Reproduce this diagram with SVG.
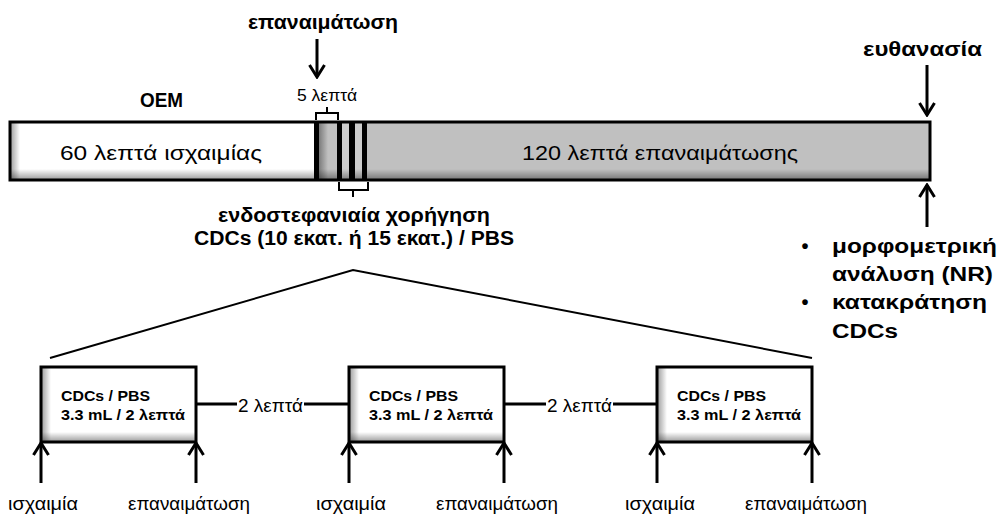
<svg xmlns="http://www.w3.org/2000/svg" width="999" height="517" viewBox="0 0 999 517">
<style>
.t{font-family:"Liberation Sans",Arial,sans-serif;fill:#000}
.b{font-weight:bold}
.ln{stroke:#000;fill:none;stroke-width:3}
.thin{stroke:#000;fill:none;stroke-width:2}
.arr{stroke:#000;fill:none;stroke-width:3;marker-end:url(#ah)}
.box{fill:#fff}
.edge{fill:none;stroke:#000;stroke-width:3}
</style>
<defs>
<marker id="ah" viewBox="0 0 16 18" refX="14" refY="9" markerWidth="16" markerHeight="18" orient="auto" markerUnits="userSpaceOnUse">
<path d="M2,1.5 L14,9 L2,16.5" fill="none" stroke="#000" stroke-width="3"/>
</marker>
<linearGradient id="shL" x1="0" y1="0" x2="1" y2="0">
<stop offset="0" stop-color="#000" stop-opacity="0.4"/>
<stop offset="1" stop-color="#000" stop-opacity="0"/>
</linearGradient>
<linearGradient id="shB" x1="0" y1="0" x2="0" y2="1">
<stop offset="0" stop-color="#000" stop-opacity="0"/>
<stop offset="1" stop-color="#000" stop-opacity="0.4"/>
</linearGradient>
</defs>

<g id="timeline">
<rect x="10" y="122" width="306" height="58" fill="#fff"/>
<rect x="316" y="122" width="614" height="58" fill="#c0c0c0"/>
<rect x="342" y="122" width="20" height="58" fill="#cdcdcd"/>
<rect x="10" y="122" width="10" height="58" fill="url(#shL)"/>
<rect x="318" y="122" width="10" height="58" fill="url(#shL)"/>
<rect x="10" y="169" width="920" height="11" fill="url(#shB)"/>
<rect x="314" y="122" width="5" height="58" fill="#000"/>
<rect x="337" y="122" width="5" height="58" fill="#000"/>
<rect x="349" y="122" width="6" height="58" fill="#000"/>
<rect x="362" y="122" width="5" height="58" fill="#000"/>
<rect x="10" y="122" width="920" height="58" class="edge"/>
<text class="t" x="60" y="160" font-size="21" textLength="202" lengthAdjust="spacingAndGlyphs">60 λεπτά ισχαιμίας</text>
<text class="t" x="522" y="160" font-size="21" textLength="276" lengthAdjust="spacingAndGlyphs">120 λεπτά επαναιμάτωσης</text>
</g>

<g id="label-oem"><text class="t b" x="140" y="107" font-size="20" textLength="43" lengthAdjust="spacingAndGlyphs">ΟΕΜ</text></g>
<g id="label-reperfusion"><text class="t b" x="248" y="29" font-size="20" textLength="150" lengthAdjust="spacingAndGlyphs">επαναιμάτωση</text></g>
<g id="label-5min"><text class="t" x="297" y="101" font-size="16" textLength="60" lengthAdjust="spacingAndGlyphs">5 λεπτά</text></g>
<g id="label-euthanasia"><text class="t b" x="863" y="56" font-size="20" textLength="119" lengthAdjust="spacingAndGlyphs">ευθανασία</text></g>
<g id="label-admin">
<text class="t b" x="218" y="222" font-size="20" textLength="272" lengthAdjust="spacingAndGlyphs">ενδοστεφανιαία χορήγηση</text>
<text class="t b" x="194" y="245" font-size="20" textLength="320" lengthAdjust="spacingAndGlyphs">CDCs (10 εκατ. ή 15 εκατ.) / PBS</text>
</g>
<g id="label-analysis">
<text class="t b" x="805" y="253" font-size="20" text-anchor="middle">•</text>
<text class="t b" x="832" y="253" font-size="20" textLength="165" lengthAdjust="spacingAndGlyphs">μορφομετρική</text>
<text class="t b" x="832" y="281" font-size="20" textLength="161" lengthAdjust="spacingAndGlyphs">ανάλυση (NR)</text>
<text class="t b" x="805" y="309" font-size="20" text-anchor="middle">•</text>
<text class="t b" x="832" y="309" font-size="20" textLength="155" lengthAdjust="spacingAndGlyphs">κατακράτηση</text>
<text class="t b" x="832" y="338" font-size="20" textLength="66" lengthAdjust="spacingAndGlyphs">CDCs</text>
</g>

<g id="box1">
<rect class="box" x="41" y="367" width="155" height="75"/>
<rect x="41" y="367" width="10" height="75" fill="url(#shL)"/>
<rect x="41" y="432" width="155" height="10" fill="url(#shB)"/>
<rect class="edge" x="41" y="367" width="155" height="75"/>
<text class="t b" x="61" y="401" font-size="15.5" textLength="89" lengthAdjust="spacingAndGlyphs">CDCs / PBS</text>
<text class="t b" x="61" y="420" font-size="15.5" textLength="124" lengthAdjust="spacingAndGlyphs">3.3 mL / 2 λεπτά</text>
</g>
<g id="box2">
<rect class="box" x="349" y="367" width="155" height="75"/>
<rect x="349" y="367" width="10" height="75" fill="url(#shL)"/>
<rect x="349" y="432" width="155" height="10" fill="url(#shB)"/>
<rect class="edge" x="349" y="367" width="155" height="75"/>
<text class="t b" x="369" y="401" font-size="15.5" textLength="89" lengthAdjust="spacingAndGlyphs">CDCs / PBS</text>
<text class="t b" x="369" y="420" font-size="15.5" textLength="124" lengthAdjust="spacingAndGlyphs">3.3 mL / 2 λεπτά</text>
</g>
<g id="box3">
<rect class="box" x="657" y="367" width="155" height="75"/>
<rect x="657" y="367" width="10" height="75" fill="url(#shL)"/>
<rect x="657" y="432" width="155" height="10" fill="url(#shB)"/>
<rect class="edge" x="657" y="367" width="155" height="75"/>
<text class="t b" x="677" y="401" font-size="15.5" textLength="89" lengthAdjust="spacingAndGlyphs">CDCs / PBS</text>
<text class="t b" x="677" y="420" font-size="15.5" textLength="124" lengthAdjust="spacingAndGlyphs">3.3 mL / 2 λεπτά</text>
</g>

<g id="bottom-labels">
<text class="t" x="8" y="510" font-size="19" textLength="70" lengthAdjust="spacingAndGlyphs">ισχαιμία</text>
<text class="t" x="128" y="510" font-size="19" textLength="122" lengthAdjust="spacingAndGlyphs">επαναιμάτωση</text>
<text class="t" x="316" y="510" font-size="19" textLength="70" lengthAdjust="spacingAndGlyphs">ισχαιμία</text>
<text class="t" x="436" y="510" font-size="19" textLength="122" lengthAdjust="spacingAndGlyphs">επαναιμάτωση</text>
<text class="t" x="625" y="510" font-size="19" textLength="70" lengthAdjust="spacingAndGlyphs">ισχαιμία</text>
<text class="t" x="745" y="510" font-size="19" textLength="122" lengthAdjust="spacingAndGlyphs">επαναιμάτωση</text>
</g>

<g id="connectors">
<path class="arr" d="M317,39 V77"/>
<path class="arr" d="M927,65 V115"/>
<path class="arr" d="M927,227 V185"/>
<path class="thin" d="M316,120 V113 H338 V120 M327,113 V107"/>
<path class="thin" d="M339,182 V190 H368 V182 M353,190 V197"/>
<path class="thin" d="M50,358 L353,270 L812,358"/>
<path class="ln" d="M196,404 H237 M304,404 H349"/>
<text class="t" x="238" y="412" font-size="18" textLength="65" lengthAdjust="spacingAndGlyphs">2 λεπτά</text>
<path class="ln" d="M504,404 H546 M613,404 H657"/>
<text class="t" x="547" y="412" font-size="18" textLength="65" lengthAdjust="spacingAndGlyphs">2 λεπτά</text>
<path class="arr" d="M41,483 V443"/>
<path class="arr" d="M196,483 V443"/>
<path class="arr" d="M349,483 V443"/>
<path class="arr" d="M504,483 V443"/>
<path class="arr" d="M657,483 V443"/>
<path class="arr" d="M812,483 V443"/>
</g>
</svg>
